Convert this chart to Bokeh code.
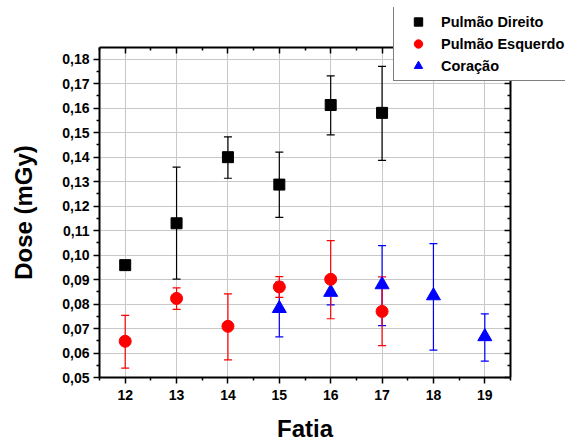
from bokeh.plotting import figure
from bokeh.models import (ColumnDataSource, Whisker, TeeHead, FixedTicker, LinearAxis,
                          CustomJSTickFormatter, Legend, LegendItem, Range1d)
from bokeh.embed import file_html
from bokeh.resources import INLINE

# ---- data ----
fatia_pd = [12, 13, 14, 15, 16, 17]
dose_pd = [0.0959, 0.1130, 0.1400, 0.1288, 0.1613, 0.1581]
err_pd_up = [0.0010, 0.0229, 0.0083, 0.0133, 0.0119, 0.0190]
err_pd_dn = [0.0010, 0.0228, 0.0086, 0.0134, 0.0122, 0.0194]

fatia_pe = [12, 13, 14, 15, 16, 17]
dose_pe = [0.0648, 0.0823, 0.0709, 0.0870, 0.0901, 0.0770]
err_pe_up = [0.0106, 0.0043, 0.0133, 0.0042, 0.0158, 0.0141]
err_pe_dn = [0.0110, 0.0045, 0.0137, 0.0043, 0.0161, 0.0140]

fatia_co = [15, 16, 17, 18, 19]
dose_co = [0.0782, 0.0848, 0.0879, 0.0834, 0.0667]
err_co_up = [0.0108, 0.0041, 0.0160, 0.0213, 0.0093]
err_co_dn = [0.0116, 0.0051, 0.0167, 0.0222, 0.0100]

x_ticks = [12, 13, 14, 15, 16, 17, 18, 19]
x_minor = [11.5, 12.5, 13.5, 14.5, 15.5, 16.5, 17.5, 18.5, 19.5]
y_ticks = [0.05, 0.06, 0.07, 0.08, 0.09, 0.10, 0.11, 0.12, 0.13, 0.14, 0.15, 0.16, 0.17, 0.18]
y_minor = [0.055, 0.065, 0.075, 0.085, 0.095, 0.105, 0.115, 0.125, 0.135, 0.145,
           0.155, 0.165, 0.175, 0.185]

labels = ["Pulmão Direito", "Pulmão Esquerdo", "Coração"]
colors = ["black", "red", "blue"]
markers = ["square", "circle", "triangle"]
sizes = [11, 12, 14]
FONT = "Liberation Sans"

p = figure(width=565, height=444, output_backend="svg", toolbar_location=None,
           x_range=Range1d(11.5, 19.5), y_range=Range1d(0.05, 0.1848),
           min_border_left=99, min_border_right=55, min_border_top=47, min_border_bottom=66,
           x_axis_label="Fatia", y_axis_label="Dose (mGy)")
p.outline_line_color = None
p.background_fill_color = "white"
p.border_fill_color = "white"

fmt = CustomJSTickFormatter(code="return tick.toFixed(2).replace('.', ',')")
blank = CustomJSTickFormatter(code="return ''")

for ax in p.xaxis:
    ax.ticker = FixedTicker(ticks=x_ticks, minor_ticks=x_minor)
for ax in p.yaxis:
    ax.ticker = FixedTicker(ticks=y_ticks, minor_ticks=y_minor)
    ax.formatter = fmt

for ax in list(p.xaxis) + list(p.yaxis):
    ax.axis_line_width = 2
    ax.axis_line_color = "black"
    ax.major_tick_line_width = 1.5
    ax.minor_tick_line_width = 1.5
    ax.major_tick_in = 0
    ax.major_tick_out = 6
    ax.minor_tick_in = 0
    ax.minor_tick_out = 3
    ax.major_label_text_font = FONT
    ax.major_label_text_font_style = "bold"
    ax.major_label_text_font_size = "14px"
    ax.major_label_text_color = "black"
    ax.axis_label_text_font = FONT
    ax.axis_label_text_font_style = "bold"
    ax.axis_label_text_font_size = "24px"
    ax.axis_label_text_color = "black"

p.xaxis.major_label_standoff = 6
p.xaxis.axis_label_standoff = 12
p.yaxis.major_label_standoff = 4
p.yaxis.axis_label_standoff = 22

# top and right box axes with inward ticks
top = LinearAxis(ticker=FixedTicker(ticks=x_ticks, minor_ticks=x_minor), formatter=blank)
right = LinearAxis(ticker=FixedTicker(ticks=y_ticks, minor_ticks=y_minor), formatter=blank)
for ax in (top, right):
    ax.axis_line_width = 2
    ax.major_tick_line_width = 1.5
    ax.minor_tick_line_width = 1.5
    ax.major_tick_in = 6
    ax.major_tick_out = 0
    ax.minor_tick_in = 3
    ax.minor_tick_out = 0
    ax.major_label_standoff = 0
p.add_layout(top, "above")
p.add_layout(right, "right")

p.xgrid.ticker = FixedTicker(ticks=x_ticks)
p.ygrid.ticker = FixedTicker(ticks=y_ticks)
p.grid.grid_line_color = "#c8c8c8"
p.grid.grid_line_width = 1

def add_series(xs, ys, up, dn, color, marker, size):
    src = ColumnDataSource(dict(x=xs, y=ys,
                                upper=[a + b for a, b in zip(ys, up)],
                                lower=[a - b for a, b in zip(ys, dn)]))
    w = Whisker(source=src, base="x", upper="upper", lower="lower",
                line_color=color, line_width=1.2,
                upper_head=TeeHead(size=8, line_color=color, line_width=1.2),
                lower_head=TeeHead(size=8, line_color=color, line_width=1.2))
    p.add_layout(w)
    p.scatter("x", "y", source=src, marker=marker, size=size,
              fill_color=color, line_color=color)

add_series(fatia_pd, dose_pd, err_pd_up, err_pd_dn, colors[0], markers[0], sizes[0])
add_series(fatia_co, dose_co, err_co_up, err_co_dn, colors[2], markers[2], sizes[2])
add_series(fatia_pe, dose_pe, err_pe_up, err_pe_dn, colors[1], markers[1], sizes[1])

# ---- legend: a small overlay figure that sits over the plot's top-right corner ----
# (its glyph renderers reuse the series data, which lies outside this small view)
q = figure(width=175, height=75, output_backend="svg", toolbar_location=None,
           x_range=Range1d(0, 1), y_range=Range1d(0, 1), min_border=0,
           min_border_left=0, min_border_right=0, min_border_top=0, min_border_bottom=0,
           x_axis_location=None, y_axis_location=None)
q.grid.visible = False
q.outline_line_color = None
q.background_fill_color = None
q.border_fill_color = None
series_xy = [(fatia_pd, dose_pd), (fatia_pe, dose_pe), (fatia_co, dose_co)]
items = []
for lab, col, mk, (xs, ys) in zip(labels, colors, markers, series_xy):
    r = q.scatter(x=xs, y=ys, marker=mk, size=11, fill_color=col, line_color=col)
    items.append(LegendItem(label=lab, renderers=[r]))
legend = Legend(items=items, location=(3, 1))
legend.label_text_font = FONT
legend.label_text_font_style = "bold"
legend.label_text_font_size = "14.5px"
legend.label_text_color = "black"
legend.glyph_width = 40
legend.glyph_height = 21
legend.label_standoff = 3
legend.label_height = 21
legend.spacing = 1
legend.padding = 4
legend.margin = 0
legend.border_line_color = "black"
legend.border_line_width = 1.5
legend.background_fill_color = "white"
legend.background_fill_alpha = 1
q.add_layout(legend, "center")
q.styles = {"position": "absolute", "left": "390px", "top": "7px", "z-index": "10"}

open("out.html", "w").write(file_html([p, q], INLINE))
